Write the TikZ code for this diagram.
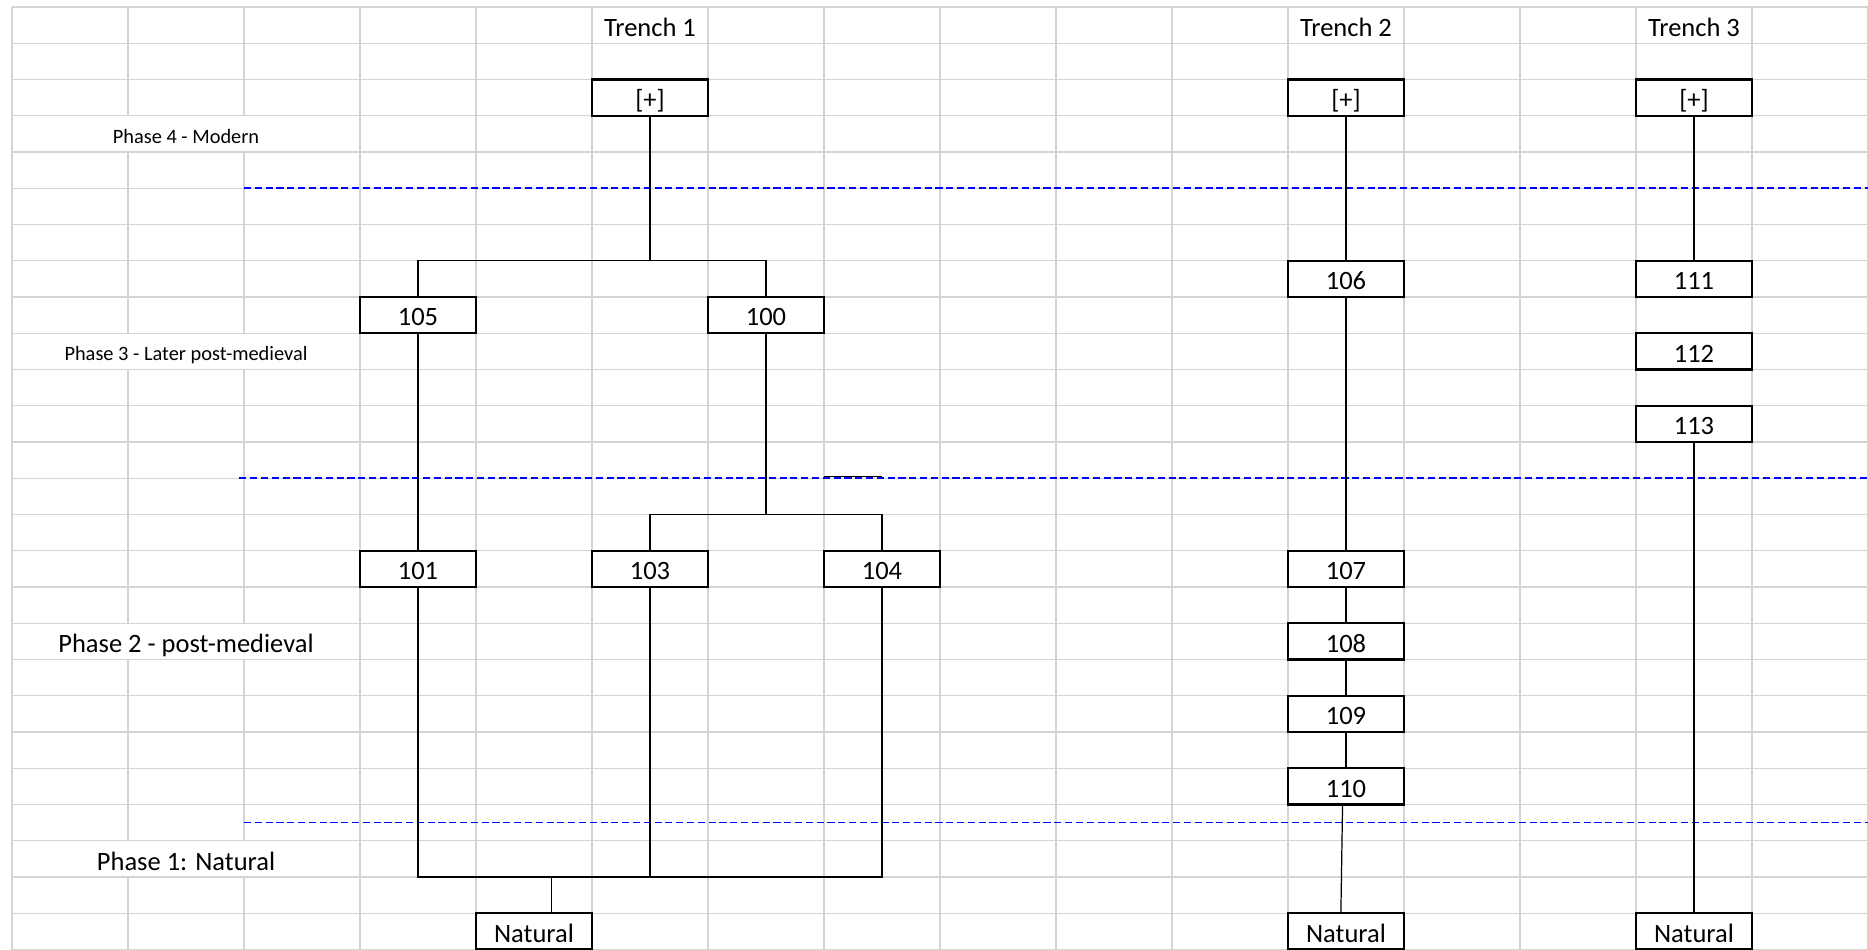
\documentclass[tikz,border=0pt]{standalone}
\usepackage{fontspec}
\setmainfont{Carlito}
\definecolor{gridgrey}{RGB}{212,212,212}
\tikzset{
  gridline/.style={draw=gridgrey, line width=0.7pt},
  phaseline/.style={draw=blue, line width=0.8pt, dash pattern=on 3.5pt off 1.8pt},
  link/.style={line width=0.6pt},
  ctxbox/.style={draw, fill=white, line width=1.1pt, minimum width=2cm,
    minimum height=0.625cm, inner sep=0pt, text height=10.5pt, text depth=0pt,
    font=\fontsize{13}{15}\selectfont},
  heading/.style={inner sep=0pt, yshift=-1pt, font=\fontsize{13}{15}\selectfont},
  phasesmall/.style={fill=white, inner sep=0pt, minimum height=0.6cm,
    text height=9pt, text depth=0pt, font=\fontsize{10}{12}\selectfont},
  phasebig/.style={fill=white, inner sep=0pt, minimum height=0.6cm,
    text height=11pt, text depth=0pt, font=\fontsize{13}{15}\selectfont}
}
\begin{document}
\begin{tikzpicture}[x=2cm, y=-0.625cm]
  \useasboundingbox[fill=white] (-0.1034,-0.193) rectangle (16,26);
  % spreadsheet grid
  \foreach \c in {0,...,16}
    \draw[gridline] (\c,0) -- (\c,26);
  \foreach \r in {0,...,26}
    \draw[gridline] (0,\r) -- (16,\r);
  % phase boundaries
  \draw[phaseline] (2,5) -- (16,5);
  \draw[phaseline] (1.96,13) -- (16,13);
  \draw[phaseline] (2,22.5) -- (16,22.5);
  % headings
  \node[heading] (tr1) at (5.5,0.5) {Trench 1};
  \node[heading] (tr2) at (11.5,0.5) {Trench 2};
  \node[heading] (tr3) at (14.5,0.5) {Trench 3};
  \node[phasesmall] (ph4) at (1.5,3.5) {Phase 4 - Modern};
  \node[phasesmall] (ph3) at (1.5,9.5) {Phase 3 - Later post-medieval};
  \node[phasebig] (ph2) at (1.5,17.5) {Phase 2 - post-medieval};
  \node[phasebig] (ph1) at (1.5,23.5) {Phase 1: Natural};
  % trench 1
  \node[ctxbox] (top1) at (5.5,2.5) {[+]};
  \node[ctxbox] (ctx105) at (3.5,8.5) {105};
  \node[ctxbox] (ctx100) at (6.5,8.5) {100};
  \node[ctxbox] (ctx101) at (3.5,15.5) {101};
  \node[ctxbox] (ctx103) at (5.5,15.5) {103};
  \node[ctxbox] (ctx104) at (7.5,15.5) {104};
  \node[ctxbox] (nat1) at (4.5,25.5) {Natural};
  \coordinate (j1) at (5.5,7);
  \coordinate (j2) at (6.5,14);
  \coordinate (j3) at (4.65,24);
  \draw[link] (top1.south) -- (j1);
  \draw[link] (ctx105.north) |- (j1) -| (ctx100.north);
  \draw[link] (ctx105.south) -- (ctx101.north);
  \draw[link] (ctx100.south) -- (j2);
  \draw[link] (ctx103.north) |- (j2) -| (ctx104.north);
  \draw[link] (ctx101.south) |- (j3) -| (ctx104.south);
  \draw[link] (ctx103.south) -- (ctx103.south |- j3);
  \draw[link] (j3) -- (j3 |- nat1.north);
  \draw[link] (7,12.96) -- (7.5,12.96);
  % trench 2
  \node[ctxbox] (top2) at (11.5,2.5) {[+]};
  \node[ctxbox] (ctx106) at (11.5,7.5) {106};
  \node[ctxbox] (ctx107) at (11.5,15.5) {107};
  \node[ctxbox] (ctx108) at (11.5,17.5) {108};
  \node[ctxbox] (ctx109) at (11.5,19.5) {109};
  \node[ctxbox] (ctx110) at (11.5,21.5) {110};
  \node[ctxbox] (nat2) at (11.5,25.5) {Natural};
  \draw[link] (top2.south) -- (ctx106.north);
  \draw[link] (ctx106.south) -- (ctx107.north);
  \draw[link] (ctx107.south) -- (ctx108.north);
  \draw[link] (ctx108.south) -- (ctx109.north);
  \draw[link] (ctx109.south) -- (ctx110.north);
  \draw[link] ([xshift=-1.7pt]ctx110.south) -- ([xshift=-2.5pt]nat2.north);
  % trench 3
  \node[ctxbox] (top3) at (14.5,2.5) {[+]};
  \node[ctxbox] (ctx111) at (14.5,7.5) {111};
  \node[ctxbox] (ctx112) at (14.5,9.5) {112};
  \node[ctxbox] (ctx113) at (14.5,11.5) {113};
  \node[ctxbox] (nat3) at (14.5,25.5) {Natural};
  \draw[link] (top3.south) -- (ctx111.north);
  \draw[link] (ctx113.south) -- (nat3.north);
\end{tikzpicture}
\end{document}
